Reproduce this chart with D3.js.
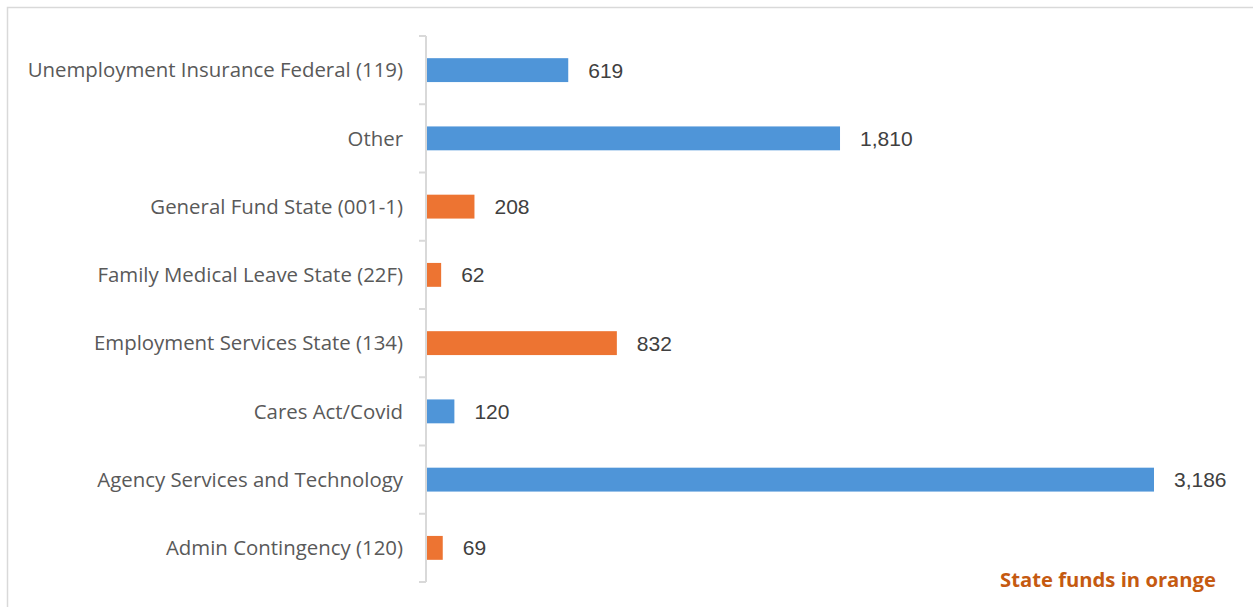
<!DOCTYPE html>
<html>
<head>
<meta charset="utf-8">
<script src="https://cdn.jsdelivr.net/npm/d3@7"></script>
<style>
  html, body { margin: 0; padding: 0; background: #fff; }
  svg { display: block; }
</style>
</head>
<body>
<div id="chart"></div>
<script>
// top-to-bottom order as shown
const categories = [
  'Unemployment Insurance Federal (119)',
  'Other',
  'General Fund State (001-1)',
  'Family Medical Leave State (22F)',
  'Employment Services State (134)',
  'Cares Act/Covid',
  'Agency Services and Technology',
  'Admin Contingency (120)'
];
const values = [619, 1810, 208, 62, 832, 120, 3186, 69];
const isState = [false, false, true, true, true, false, false, true];
const note = 'State funds in orange';

const width = 1253, height = 607;
const margin = { top: 36, right: 99, bottom: 25, left: 426 };

const svg = d3.select('#chart')
  .append('svg')
  .attr('width', width)
  .attr('height', height);

// chart area border
svg.append('rect')
  .attr('x', 7.5).attr('y', 7.5)
  .attr('width', 1252).attr('height', 620)
  .attr('fill', 'none')
  .attr('stroke', '#d9d9d9')
  .attr('stroke-width', 1.5);

const x = d3.scaleLinear()
  .domain([0, 3186])
  .range([margin.left + 1, width - margin.right]);

const y = d3.scaleBand()
  .domain(categories)
  .range([margin.top, height - margin.bottom])
  .paddingInner(0.65)
  .paddingOuter(0.325);

// axis line + ticks at band boundaries
const step = y.step();
const boundaries = d3.range(categories.length + 1).map(i => margin.top + i * step);
const axis = svg.append('g').attr('stroke', '#d9d9d9').attr('stroke-width', 2);
axis.append('line')
  .attr('x1', margin.left).attr('x2', margin.left)
  .attr('y1', margin.top).attr('y2', height - margin.bottom);
axis.selectAll('line.tick')
  .data(boundaries)
  .enter()
  .append('line')
  .attr('class', 'tick')
  .attr('x1', margin.left - 7).attr('x2', margin.left)
  .attr('y1', d => d).attr('y2', d => d);

svg.append('g')
  .selectAll('rect')
  .data(values)
  .enter()
  .append('rect')
  .attr('x', x(0))
  .attr('y', (d, i) => y(categories[i]))
  .attr('width', d => x(d) - x(0))
  .attr('height', y.bandwidth())
  .attr('fill', (d, i) => isState[i] ? '#ed7432' : '#4f95d8');

const fmt = d3.format(',');
svg.append('g')
  .selectAll('text')
  .data(values)
  .enter()
  .append('text')
  .attr('x', d => x(d) + 20)
  .attr('y', (d, i) => y(categories[i]) + y.bandwidth() / 2)
  .attr('dy', '0.36em')
  .style('font-family', '"Liberation Sans", Arial, sans-serif')
  .style('font-size', '21px')
  .style('fill', '#404040')
  .text(d => fmt(d));

svg.append('g')
  .selectAll('text')
  .data(categories)
  .enter()
  .append('text')
  .attr('x', margin.left - 23)
  .attr('y', d => y(d) + y.bandwidth() / 2)
  .attr('dy', '0.36em')
  .attr('text-anchor', 'end')
  .style('font-family', '"Open Sans", "Noto Sans", sans-serif')
  .style('font-size', '20.4px')
  .style('fill', '#595959')
  .text(d => d);

svg.append('text')
  .attr('x', 1000)
  .attr('y', 587)
  .attr('textLength', 216)
  .attr('lengthAdjust', 'spacingAndGlyphs')
  .style('font-family', '"Open Sans", sans-serif')
  .style('font-weight', 'bold')
  .style('font-size', '20px')
  .style('fill', '#c55a11')
  .text(note);
</script>
</body>
</html>
